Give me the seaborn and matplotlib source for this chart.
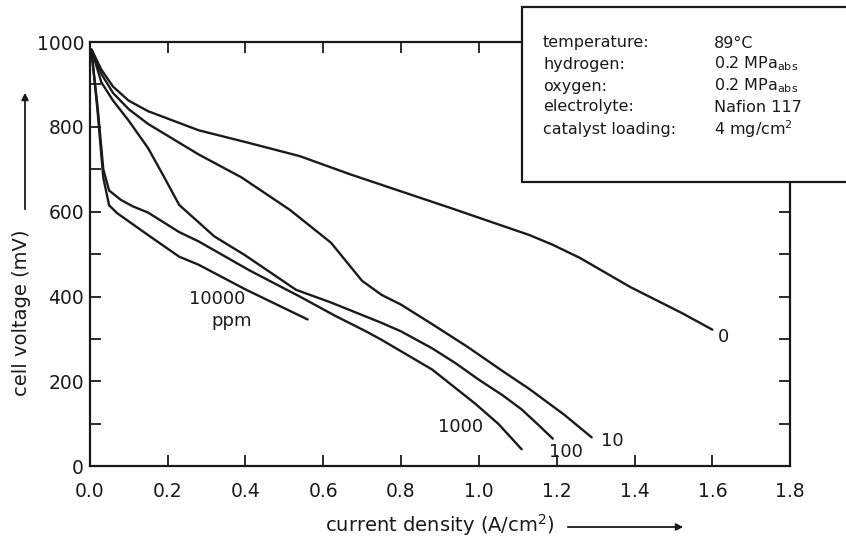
import pandas as pd
import seaborn as sns
import matplotlib
matplotlib.use("Agg")
import matplotlib.pyplot as plt
from matplotlib.ticker import MultipleLocator, FormatStrFormatter
from matplotlib.patches import Rectangle, FancyArrowPatch

# Polarisation curves for different CO levels in the hydrogen feed (ppm)
co_0_x = [0.005, 0.03, 0.06, 0.10, 0.15, 0.28, 0.41, 0.54, 0.67, 0.80, 0.93, 1.06, 1.13, 1.19, 1.26, 1.39, 1.52, 1.60]
co_0_y = [982, 935, 895, 862, 837, 792, 762, 731, 688, 648, 608, 567, 545, 522, 491, 422, 362, 322]

co_10_x = [0.005, 0.03, 0.06, 0.10, 0.15, 0.28, 0.39, 0.515, 0.62, 0.70, 0.75, 0.80, 0.88, 0.97, 1.06, 1.13, 1.22, 1.29]
co_10_y = [982, 925, 880, 842, 807, 735, 681, 604, 527, 437, 404, 381, 335, 282, 225, 182, 121, 68]

co_100_x = [0.005, 0.03, 0.06, 0.10, 0.15, 0.19, 0.23, 0.28, 0.32, 0.40, 0.53, 0.62, 0.75, 0.80, 0.88, 0.94, 1.00, 1.06, 1.11, 1.15, 1.19]
co_100_y = [982, 905, 862, 815, 750, 684, 616, 575, 542, 497, 416, 386, 338, 318, 278, 243, 204, 168, 134, 100, 65]

co_1000_x = [0.005, 0.02, 0.035, 0.05, 0.08, 0.11, 0.15, 0.23, 0.28, 0.41, 0.54, 0.63, 0.71, 0.75, 0.88, 0.99, 1.05, 1.11]
co_1000_y = [975, 850, 700, 650, 628, 613, 598, 552, 530, 462, 400, 355, 318, 298, 228, 148, 100, 40]

co_10000_x = [0.005, 0.02, 0.035, 0.05, 0.07, 0.15, 0.23, 0.28, 0.40, 0.56]
co_10000_y = [975, 840, 680, 615, 597, 545, 494, 475, 417, 346]

series = {
    "0": (co_0_x, co_0_y),
    "10": (co_10_x, co_10_y),
    "100": (co_100_x, co_100_y),
    "1000": (co_1000_x, co_1000_y),
    "10000": (co_10000_x, co_10000_y),
}

conditions = ["temperature:", "hydrogen:", "oxygen:", "electrolyte:", "catalyst loading:"]
condition_values = ["89°C", "0.2 MPa$_{abs}$", "0.2 MPa$_{abs}$", "Nafion 117", "4 mg/cm$^2$"]

frames = [pd.DataFrame({"current": x, "voltage": y, "co": name}) for name, (x, y) in series.items()]
df = pd.concat(frames, ignore_index=True)

sns.set_style("ticks")
plt.rcParams["font.family"] = ["DejaVu Sans"]
plt.rcParams["mathtext.default"] = "regular"
ink = "#1a1a1a"

fig = plt.figure(figsize=(8.46, 5.39), dpi=100)
ax = fig.add_axes([0.106, 0.135, 0.828, 0.787])

sns.lineplot(data=df, x="current", y="voltage", hue="co", units="co",
             estimator=None, sort=False, palette={k: ink for k in series},
             linewidth=1.7, legend=False, ax=ax)
for line in ax.get_lines():
    line.set_solid_joinstyle("round")
    line.set_solid_capstyle("round")

ax.set_xlim(0, 1.8)
ax.set_ylim(0, 1000)
ax.xaxis.set_major_locator(MultipleLocator(0.2))
ax.xaxis.set_major_formatter(FormatStrFormatter("%.1f"))
ax.yaxis.set_major_locator(MultipleLocator(200))
ax.yaxis.set_minor_locator(MultipleLocator(100))
ax.tick_params(which="both", direction="in", top=True, right=True, length=8,
               width=1.3, color=ink, labelsize=13.5, labelcolor=ink)
ax.tick_params(axis="x", pad=11)
ax.tick_params(axis="y", pad=4)
for s in ax.spines.values():
    s.set_linewidth(1.6)
    s.set_color(ink)

ax.set_xlabel("current density (A/cm$^2$)", fontsize=14, color=ink, labelpad=8)
ax.set_ylabel("cell voltage (mV)", fontsize=14, color=ink)
ax.yaxis.set_label_coords(-0.084, 0.363)

# curve labels
lab = dict(fontsize=13, color=ink)
ax.text(1.615, 305, "0", ha="left", va="center", **lab)
ax.text(1.343, 59, "10", ha="center", va="center", **lab)
ax.text(1.224, 34, "100", ha="center", va="center", **lab)
ax.text(0.954, 93, "1000", ha="center", va="center", **lab)
ax.text(0.327, 395, "10000", ha="center", va="center", **lab)
ax.text(0.365, 342, "ppm", ha="center", va="center", **lab)

# direction arrows next to the axis labels
fig.patches.append(FancyArrowPatch((25 / 846, 1 - 212 / 539), (25 / 846, 1 - 90 / 539),
                                   transform=fig.transFigure, arrowstyle="-|>",
                                   mutation_scale=10, color=ink, lw=1.3))
fig.patches.append(FancyArrowPatch((565 / 846, 1 - 527 / 539), (686 / 846, 1 - 527 / 539),
                                   transform=fig.transFigure, arrowstyle="-|>",
                                   mutation_scale=10, color=ink, lw=1.3))

# operating conditions box
box = Rectangle((522 / 846, 1 - 182 / 539), 0.45, (182 - 7) / 539,
                transform=fig.transFigure, facecolor="white", edgecolor=ink,
                linewidth=1.6, zorder=2)
fig.patches.append(box)
rows_y = [43, 64, 86, 107, 129]
for name, val, py in zip(conditions, condition_values, rows_y):
    fig.text(543 / 846, 1 - py / 539, name, ha="left", va="center",
             fontsize=11.5, color=ink, zorder=3)
    fig.text(714 / 846, 1 - py / 539, val, ha="left", va="center",
             fontsize=11.5, color=ink, zorder=3)

fig.savefig("out.png", dpi=100, facecolor="white")
